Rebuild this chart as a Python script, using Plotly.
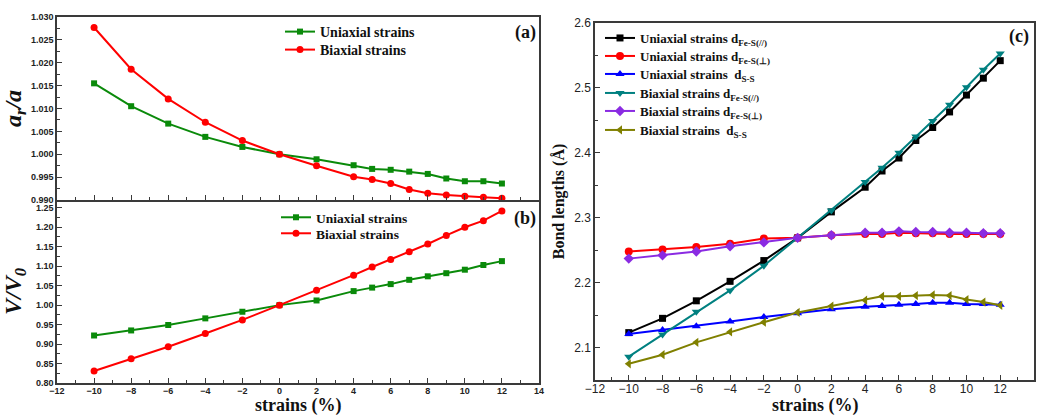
import plotly.graph_objects as go

# ---- data -------------------------------------------------------------
strain = [-10, -8, -6, -4, -2, 0, 2, 4, 5, 6, 7, 8, 9, 10, 11, 12]

# (a) lattice ratio a_r/a
ar_uni = [1.0155, 1.0105, 1.0067, 1.0038, 1.0016, 1.0000, 0.9989, 0.9976,
          0.9968, 0.9966, 0.9962, 0.9957, 0.9947, 0.9941, 0.9941, 0.9936]
ar_bi = [1.0277, 1.0186, 1.0121, 1.0070, 1.0030, 1.0000, 0.9975, 0.9951,
         0.9945, 0.9936, 0.9923, 0.9915, 0.9911, 0.9908, 0.9906, 0.9904]

# (b) volume ratio V/V0
v_uni = [0.922, 0.935, 0.949, 0.966, 0.983, 1.000, 1.012, 1.036,
         1.045, 1.054, 1.065, 1.074, 1.082, 1.091, 1.103, 1.113]
v_bi = [0.831, 0.862, 0.893, 0.927, 0.962, 1.000, 1.038, 1.077,
        1.098, 1.117, 1.137, 1.157, 1.179, 1.200, 1.217, 1.242]

# (c) bond lengths (Å)
d_uni_par = [2.123, 2.145, 2.172, 2.202, 2.234, 2.269, 2.309, 2.347,
             2.372, 2.392, 2.419, 2.439, 2.463, 2.489, 2.515, 2.542]
d_uni_perp = [2.248, 2.251, 2.255, 2.260, 2.268, 2.269, 2.273, 2.275,
              2.275, 2.277, 2.276, 2.276, 2.275, 2.275, 2.275, 2.275]
d_uni_ss = [2.121, 2.127, 2.133, 2.140, 2.147, 2.153, 2.159, 2.163,
            2.164, 2.166, 2.167, 2.169, 2.169, 2.167, 2.167, 2.166]
d_bi_par = [2.086, 2.120, 2.155, 2.188, 2.226, 2.269, 2.311, 2.355,
            2.377, 2.400, 2.425, 2.449, 2.474, 2.501, 2.528, 2.553]
d_bi_perp = [2.237, 2.242, 2.248, 2.256, 2.262, 2.269, 2.273, 2.277,
             2.277, 2.279, 2.278, 2.278, 2.277, 2.277, 2.276, 2.276]
d_bi_ss = [2.075, 2.089, 2.108, 2.124, 2.139, 2.154, 2.164, 2.173,
           2.179, 2.179, 2.180, 2.181, 2.180, 2.174, 2.170, 2.165]

x_ticks = [-12, -10, -8, -6, -4, -2, 0, 2, 4, 6, 8, 10, 12, 14]

# ---- styling helpers ----------------------------------------------------
SERIF = "Liberation Serif, Times New Roman, serif"
SANS = "Liberation Sans, Arial, sans-serif"
AXIS_COLOR = "#3a3a3a"

W, H = 1038, 415


def px_x(p):
    return p / W


def px_y(p):
    return 1 - p / H


fig = go.Figure()
legend_layouts = {}


def add_series(x, y, name, color, symbol, msize, xa, ya, legend, lx, ly, fsize):
    """Add one line+marker series with its own one-row legend at pixel (lx, ly)."""
    fig.add_trace(go.Scatter(
        x=x, y=y, name=name, mode="lines+markers",
        line=dict(color=color, width=2),
        marker=dict(symbol=symbol, size=msize, color=color),
        xaxis=xa, yaxis=ya, legend=legend,
    ))
    legend_layouts[legend] = dict(
        x=px_x(lx), y=px_y(ly), xanchor="left", yanchor="top",
        bgcolor="rgba(0,0,0,0)", borderwidth=0,
        font=dict(family=SERIF, size=fsize, color="#111111", weight="bold"),
    )


GREEN, RED = "#0a8a0a", "#ff0000"

add_series(strain, ar_uni, "Uniaxial strains", GREEN, "square", 6, "x", "y", "legend", 280, 16, 14)
add_series(strain, ar_bi, "Biaxial strains", RED, "circle", 7, "x", "y", "legend2", 280, 34, 14)

add_series(strain, v_uni, "Uniaxial strains", GREEN, "square", 6, "x2", "y2", "legend3", 276, 202, 13.5)
add_series(strain, v_bi, "Biaxial strains", RED, "circle", 7, "x2", "y2", "legend4", 276, 218, 13.5)

c_rows = [23, 41, 59, 78, 96, 115]
add_series(strain, d_uni_par, "Uniaxial strains d<sub>Fe-S(//)</sub>", "#000000", "square", 7,
           "x3", "y3", "legend5", 600, c_rows[0], 13)
add_series(strain, d_uni_perp, "Uniaxial strains d<sub>Fe-S(⊥)</sub>", "#ff0000", "circle", 8,
           "x3", "y3", "legend6", 600, c_rows[1], 13)
add_series(strain, d_uni_ss, "Uniaxial strains  d<sub>S-S</sub>", "#0000ff", "triangle-up", 8,
           "x3", "y3", "legend7", 600, c_rows[2], 13)
add_series(strain, d_bi_par, "Biaxial strains d<sub>Fe-S(//)</sub>", "#008080", "triangle-down", 8,
           "x3", "y3", "legend8", 600, c_rows[3], 13)
add_series(strain, d_bi_perp, "Biaxial strains d<sub>Fe-S(⊥)</sub>", "#8a2be2", "diamond", 8,
           "x3", "y3", "legend9", 600, c_rows[4], 13)
add_series(strain, d_bi_ss, "Biaxial strains  d<sub>S-S</sub>", "#808000", "triangle-left", 8,
           "x3", "y3", "legend10", 600, c_rows[5], 13)


def axis_common(**kw):
    base = dict(
        showline=True, linecolor=AXIS_COLOR, linewidth=1.5, mirror=True,
        ticks="inside", ticklen=5, tickwidth=1.2, tickcolor=AXIS_COLOR,
        showgrid=False, zeroline=False, automargin=False,
        minor=dict(ticks="inside", ticklen=3, tickwidth=1, tickcolor=AXIS_COLOR),
    )
    base.update(kw)
    return base


small_tick = dict(family=SANS, size=9, color="#222222", weight="bold")
big_tick = dict(family=SANS, size=12, color="#222222")

dom_ab_x = [px_x(57), px_x(539)]
dom_c_x = [px_x(595), px_x(1034)]

fig.update_layout(
    width=W, height=H,
    margin=dict(l=0, r=0, t=0, b=0),
    paper_bgcolor="white", plot_bgcolor="white",
    showlegend=True,
    xaxis=axis_common(domain=dom_ab_x, anchor="y", range=[-12, 14],
                      tickvals=x_ticks, showticklabels=False,
                      minor=dict(ticks="inside", ticklen=3, dtick=1, tickcolor=AXIS_COLOR)),
    yaxis=axis_common(domain=[px_y(200), px_y(17)], anchor="x", range=[0.990, 1.030],
                      dtick=0.005, tickformat=".3f", tickfont=small_tick,
                      minor=dict(ticks="inside", ticklen=3, dtick=0.0025, tickcolor=AXIS_COLOR),
                      title=dict(text="<b><i>a<sub>r</sub>/a</i></b>", standoff=10,
                                 font=dict(family=SERIF, size=24, color="#111111"))),
    # shared border with panel (a): no mirrored top line here
    xaxis2=axis_common(domain=dom_ab_x, anchor="y2", range=[-12, 14], mirror=False,
                       tickvals=x_ticks, tickfont=small_tick, ticklabelstandoff=-2,
                       minor=dict(ticks="inside", ticklen=3, dtick=1, tickcolor=AXIS_COLOR)),
    yaxis2=axis_common(domain=[px_y(383), px_y(200)], anchor="x2", range=[0.80, 1.27],
                       dtick=0.05, tickformat=".2f", tickfont=small_tick,
                       minor=dict(ticks="inside", ticklen=3, dtick=0.025, tickcolor=AXIS_COLOR),
                       title=dict(text="<b><i>V/V<sub>0</sub></i></b>", standoff=10,
                                  font=dict(family=SERIF, size=24, color="#111111"))),
    xaxis3=axis_common(domain=dom_c_x, anchor="y3", range=[-12, 14],
                       tickvals=x_ticks, tickfont=big_tick, ticklabelstandoff=-3,
                       minor=dict(ticks="inside", ticklen=3, dtick=1, tickcolor=AXIS_COLOR)),
    yaxis3=axis_common(domain=[px_y(380), px_y(23)], anchor="x3", range=[2.05, 2.6],
                       dtick=0.1, tick0=2.0, tickformat=".1f", tickfont=big_tick,
                       minor=dict(ticks="inside", ticklen=3, dtick=0.05, tickcolor=AXIS_COLOR),
                       title=dict(text="Bond lengths (Å)", standoff=6,
                                  font=dict(family=SERIF, size=16, color="#111111", weight="bold"))),
    **legend_layouts,
)

# x-axis titles placed below the tick labels
xtitle_font = dict(family=SERIF, size=18, color="#111111", weight="bold")
for xc in (298, 815):
    fig.add_annotation(text="strains (%)", x=px_x(xc), y=px_y(417), xref="paper", yref="paper",
                       showarrow=False, xanchor="center", yanchor="bottom", borderpad=0,
                       font=xtitle_font)

panel_font = dict(family=SERIF, size=18, color="#111111", weight="bold")
for label, xp, yp in [("(a)", 525, 32), ("(b)", 525, 218), ("(c)", 1019, 37)]:
    fig.add_annotation(text=label, x=px_x(xp), y=px_y(yp), xref="paper", yref="paper",
                       showarrow=False, xanchor="center", yanchor="middle", font=panel_font)

fig.write_html("out.html")
